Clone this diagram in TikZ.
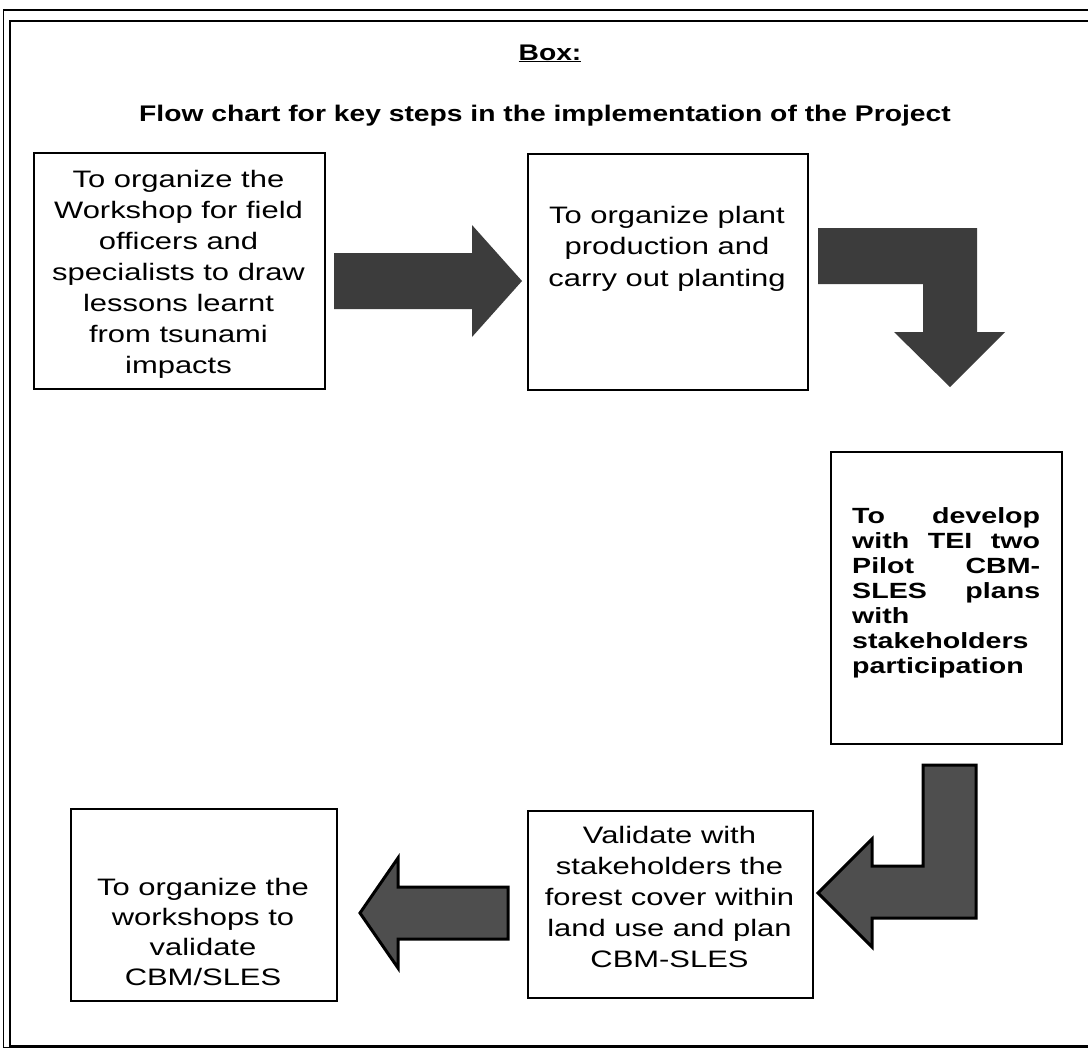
\documentclass[tikz,border=0pt]{standalone}
\usepackage{fontspec}
\setmainfont{Liberation Sans}[FakeStretch=1.3]
\newfontfamily\titlefont{Liberation Sans}[FakeStretch=1.25]
\definecolor{arrowdark}{HTML}{3C3C3C}
\definecolor{arrowmid}{HTML}{4E4E4E}
\newcommand\regtext{\fontsize{23.8}{31}\selectfont}
\begin{document}
\begin{tikzpicture}[x=1pt,y=-1pt,
  stepbox/.style={draw=black, line width=1.8pt, inner sep=0pt, anchor=north west},
  txt/.style={inner sep=0pt, anchor=base},
  blockarrow/.style={fill=arrowdark, draw=none},
  outlinearrow/.style={fill=arrowmid, draw=black, line width=3pt, line join=miter}]
\useasboundingbox (0,0) rectangle (1088,1050);
\fill[white] (0,0) rectangle (1088,1050);
% outer frame
\draw[line width=1.4pt] (3.5,10) rectangle (1100,1047.5);
\draw[line width=2.2pt] (10,21) rectangle (1100,1046);
% headings
\node[txt] (boxlbl) at (550,60) {\titlefont\bfseries\fontsize{22.6}{26}\selectfont\underline{Box:}};
\node[txt] (title) at (545,121) {\titlefont\bfseries\fontsize{22.6}{26}\selectfont Flow chart for key steps in the implementation of the Project};
% boxes
\node[stepbox, minimum width=291pt, minimum height=236pt] (b1) at (33,152) {};
\node[stepbox, minimum width=280pt, minimum height=236pt] (b2) at (527,153) {};
\node[stepbox, minimum width=231pt, minimum height=292pt] (b3) at (830,451) {};
\node[stepbox, minimum width=285pt, minimum height=187pt] (b4) at (527,810) {};
\node[stepbox, minimum width=266pt, minimum height=192pt] (b5) at (70,808) {};
% texts
\node[txt] (t1) at (178.5,187) {\parbox[t]{291pt}{\centering\regtext To organize the\\Workshop for field\\officers and\\specialists to draw\\lessons learnt\\from tsunami\\impacts}};
\node[txt] (t2) at (667,223) {\parbox[t]{280pt}{\centering\fontsize{23.8}{31.7}\selectfont To organize plant\\production and\\carry out planting}};
\node[txt, anchor=base west] (t3) at (852,523) {\parbox[t]{188pt}{\bfseries\fontsize{22}{25}\selectfont\makebox[\linewidth][s]{To develop}\\\makebox[\linewidth][s]{with TEI two}\\\makebox[\linewidth][s]{Pilot CBM-}\\\makebox[\linewidth][s]{SLES plans}\\with\\stakeholders\\participation}};
\node[txt] (t4) at (669.5,843) {\parbox[t]{285pt}{\centering\regtext Validate with\\stakeholders the\\forest cover within\\land use and plan\\CBM-SLES}};
\node[txt] (t5) at (203,895) {\parbox[t]{266pt}{\centering\fontsize{23.8}{30}\selectfont To organize the\\workshops to\\validate\\CBM/SLES}};
% block arrows
\fill[blockarrow] (334,253) -- (472,253) -- (472,225) -- (522,281) -- (472,337) -- (472,309) -- (334,309) -- cycle;
\fill[blockarrow] (818,228) -- (977,228) -- (977,332) -- (1005,332) -- (950,387) -- (894,332) -- (923,332) -- (923,284) -- (818,284) -- cycle;
\filldraw[outlinearrow] (923,765) -- (976,765) -- (976,918) -- (872,918) -- (872,947) -- (818,893) -- (872,839) -- (872,866) -- (923,866) -- cycle;
\filldraw[outlinearrow] (508,887) -- (398,887) -- (398,858) -- (360,913) -- (398,968) -- (398,939) -- (508,939) -- cycle;
\end{tikzpicture}
\end{document}
